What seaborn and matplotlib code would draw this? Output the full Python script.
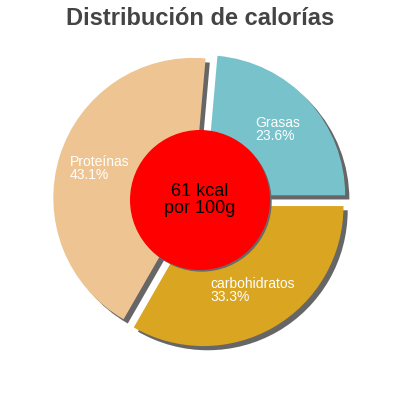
import numpy as np
import matplotlib
matplotlib.use("Agg")
import matplotlib.pyplot as plt
import seaborn as sns
from matplotlib.patches import Circle

sns.set_style("white")
plt.rcParams['font.family'] = ['Liberation Sans', 'DejaVu Sans']

categories = ["Grasas", "Proteínas", "carbohidratos"]
values = [23.6, 43.1, 33.3]
colors = ["#78c3cb", "#eec592", "#daa520"]
title = "Distribución de calorías"
center_text = "61 kcal\npor 100g"

fig = plt.figure(figsize=(4, 4), dpi=100)
ax = fig.add_axes([0, 0, 1, 1])
lim = 200 / 140

explode = [0.05] * len(values)
shadow_off = (0.03, -0.03)

# shadow pie
ax.pie(values, explode=explode, startangle=0, counterclock=True, radius=1,
       center=shadow_off, colors=["#666666"] * len(values),
       wedgeprops=dict(linewidth=0), frame=True)
# main pie
wedges, _ = ax.pie(values, explode=explode, startangle=0, counterclock=True,
                   radius=1, colors=colors, wedgeprops=dict(linewidth=0),
                   frame=True)
ax.set_xlim(-lim, lim)
ax.set_ylim(-lim, lim)
ax.set_aspect("equal")
ax.axis("off")

# labels
total = sum(values)
cum = np.cumsum([0] + values[:-1])
for cat, v, c, e in zip(categories, values, cum, explode):
    ang = np.deg2rad((c + v / 2) / total * 360)
    r = 0.70 + e
    ax.text(r * np.cos(ang), r * np.sin(ang), f"{cat}\n{v:.1f}%",
            ha="center", va="center", multialignment="left",
            color="white", fontsize=10, linespacing=0.9)

# center circle with shadow
ax.add_patch(Circle((0.012, -0.012), 0.5, color="#6a6a6a", lw=0, zorder=5))
ax.add_patch(Circle((0, 0), 0.5, color="#ff0000", lw=0, zorder=6))
ax.text(0, 0, center_text, ha="center", va="center", fontsize=13,
        color="black", zorder=7, linespacing=1.0)

fig.text(0.5, 1 - 25 / 400, title, ha="center", va="baseline",
         fontsize=17, fontweight="bold", color="#444444")

fig.savefig("out.png", dpi=100)
